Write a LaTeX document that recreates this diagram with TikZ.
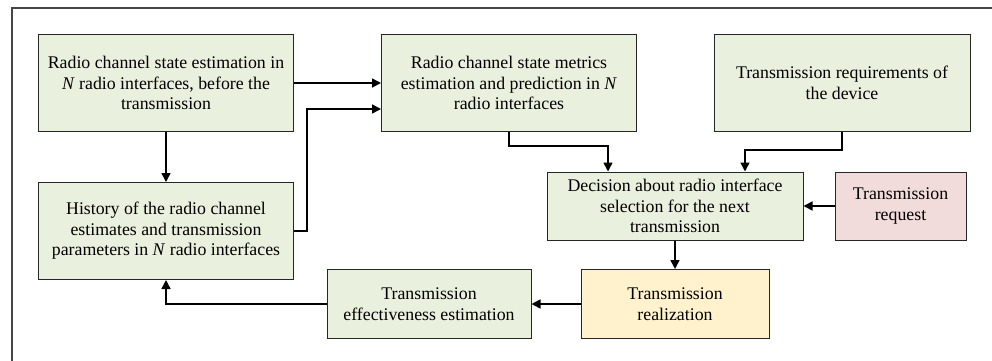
\documentclass[tikz,border=0pt]{standalone}
\usepackage{fontspec}
\setmainfont{Liberation Serif}
\usetikzlibrary{arrows.meta}
\definecolor{boxgreen}{RGB}{234,240,222}
\definecolor{boxpink}{RGB}{242,220,219}
\definecolor{boxyellow}{RGB}{255,242,204}
\definecolor{framegray}{RGB}{70,70,70}
\begin{document}
\begin{tikzpicture}[x=1pt,y=-1pt,
  box/.style={draw=black!85, line width=1pt, align=center, inner sep=0pt,
    font=\fontsize{17.8}{20.5}\selectfont},
  greenbox/.style={box, fill=boxgreen},
  arr/.style={draw=black, line width=1.5pt, -{Triangle[length=9pt,width=9pt]}}]
\useasboundingbox (0,0) rectangle (992,360);
\draw[framegray, line width=1.4pt] (12,361) -- (12,8) -- (993,8);

\node[greenbox, minimum width=255pt, minimum height=97pt] (A) at (166,83)
  {Radio channel state estimation in\\ \textit{N} radio interfaces, before the\\ transmission};
\node[greenbox, minimum width=255pt, minimum height=97pt] (B) at (166,231)
  {History of the radio channel\\ estimates and transmission\\ parameters in \textit{N} radio interfaces};
\node[greenbox, minimum width=255pt, minimum height=97pt] (C) at (509,83)
  {Radio channel state metrics\\ estimation and prediction in \textit{N}\\ radio interfaces};
\node[greenbox, minimum width=256pt, minimum height=97pt] (D) at (842,83)
  {Transmission requirements of\\ the device};
\node[greenbox, minimum width=256pt, minimum height=68pt] (E) at (675,206)
  {Decision about radio interface\\ selection for the next\\ transmission};
\node[box, fill=boxpink, minimum width=131pt, minimum height=68pt] (F) at (900.5,206)
  {Transmission\\ request};
\node[box, fill=boxyellow, minimum width=188pt, minimum height=69pt] (G) at (675,304)
  {Transmission\\ realization};
\node[greenbox, minimum width=204pt, minimum height=69pt] (H) at (429,304)
  {Transmission\\ effectiveness estimation};

\coordinate (bc) at (307,109);
\coordinate (ce) at (608,146);
\coordinate (de) at (745,150);

\draw[arr] (A) -- (C);
\draw[arr] (B.east) -| (bc) -- (C.west |- bc);
\draw[arr] (A) -- (B);
\draw[arr] (C.south) |- (ce) -- (ce |- E.north);
\draw[arr] (D.south) |- (de) -- (de |- E.north);
\draw[arr] (F) -- (E);
\draw[arr] (E) -- (G);
\draw[arr] (G) -- (H);
\draw[arr] (H.west) -| (B.south);
\end{tikzpicture}
\end{document}
